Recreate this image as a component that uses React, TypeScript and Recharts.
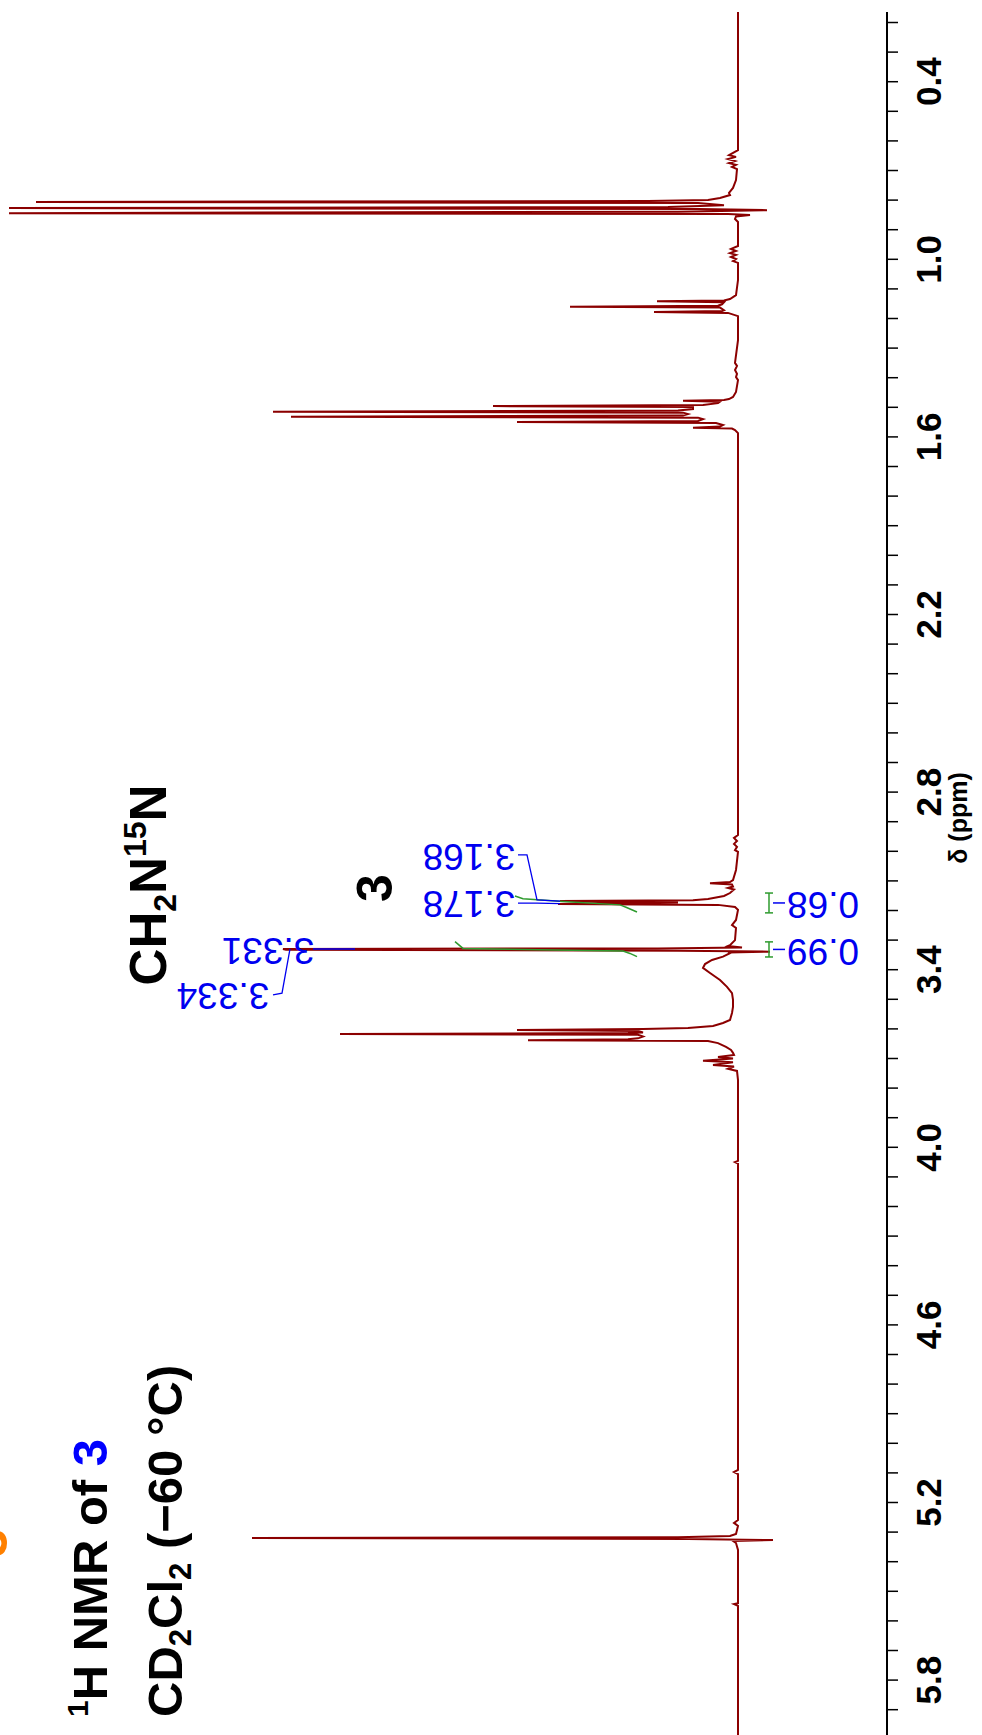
import React from 'react';
import { LineChart, Line, XAxis, YAxis } from 'recharts';

// ---------- data (chemical shift in ppm, intensity in arbitrary units) ----------
const highFieldBase: [number, number][] = [
  [0.1645, 0], [0.631, 0], [0.648, 9], [0.654, 2], [0.661, 10], [0.668, 3], [0.675, 9],
  [0.681, 2], [0.688, 6], [0.695, 1], [0.732, 2], [0.759, 5], [0.776, 9], [0.783, 8],
  [0.793, 18], [0.8, 30],
];
const tripletA: [number, number][] = [
  [0.803, 90], [0.806, 702], [0.81, 40], [0.817, 14], [0.823, 70], [0.827, 729], [0.83, 40],
  [0.834, -29], [0.839, 60], [0.844, 729], [0.847, 10], [0.85, -12], [0.855, 2], [0.864, 3],
  [0.874, 0],
];
const tripletB: [number, number][] = [
  [0.955, 0], [0.965, 7], [0.972, 2], [0.979, 8], [0.985, 2], [0.992, 7], [0.999, 2],
  [1.006, 5], [1.012, 0], [1.07, 0], [1.121, 2], [1.134, 8], [1.139, 14], [1.142, 81],
  [1.145, 14], [1.152, 16], [1.157, 20], [1.16, 168], [1.163, 18], [1.172, 14], [1.175, 16],
  [1.178, 84], [1.181, 10], [1.192, 0], [1.273, 0], [1.35, 3], [1.36, 1], [1.374, 3],
  [1.387, 1], [1.398, 2], [1.408, 0],
];
const multipletC: [number, number][] = [
  [1.448, 2], [1.465, 5], [1.472, 9], [1.475, 14], [1.478, 55], [1.481, 18], [1.486, 20],
  [1.492, 35], [1.496, 245], [1.499, 45], [1.506, 45], [1.511, 60], [1.515, 465], [1.518, 55],
  [1.523, 50], [1.528, 55], [1.532, 447], [1.535, 40], [1.54, 35], [1.546, 40], [1.55, 221],
  [1.553, 22], [1.56, 15], [1.565, 18], [1.569, 45], [1.572, 6], [1.577, 3], [1.587, 0],
];
const midBase: [number, number][] = [
  [1.61, 0], [1.813, 0], [2.151, 0], [2.489, 0], [2.827, 0], [2.945, 0], [2.955, 4],
  [2.965, 1], [2.975, 4], [2.985, 1], [2.996, 3], [3.002, 0], [3.063, 2], [3.097, 5],
  [3.104, 8], [3.108, 28], [3.112, 6], [3.119, 5], [3.124, 10], [3.129, 4], [3.141, 8],
  [3.151, 14], [3.161, 30],
];
const doubletCH2: [number, number][] = [
  [3.165, 45], [3.168, 178], [3.173, 60], [3.178, 180], [3.181, 20], [3.188, 3], [3.198, 0],
  [3.232, 2], [3.249, 6], [3.259, 2], [3.3, 3], [3.317, 8],
];
const singletS: [number, number][] = [
  [3.32, 10], [3.325, -4], [3.328, 80], [3.33, 455], [3.333, 452], [3.336, 60], [3.339, -32],
  [3.342, 10], [3.344, 8],
];
const humpAndD: [number, number][] = [
  [3.356, 15], [3.367, 26], [3.381, 33], [3.394, 35], [3.411, 28], [3.435, 18], [3.458, 11],
  [3.479, 6], [3.502, 5], [3.526, 5], [3.546, 6], [3.57, 8], [3.58, 15], [3.59, 25],
  [3.597, 50], [3.6, 95], [3.604, 221], [3.607, 100], [3.612, 95], [3.614, 110], [3.617, 398],
  [3.62, 100], [3.626, 95], [3.632, 100], [3.635, 110], [3.638, 210], [3.641, 30], [3.648, 20],
  [3.661, 12], [3.671, 7], [3.681, 5], [3.688, 4], [3.695, 20], [3.7, 5], [3.708, 35],
  [3.713, 5], [3.722, 25], [3.727, 4], [3.735, 10], [3.742, 1], [3.773, 0],
];
const lowField: [number, number][] = [
  [4.046, 0], [4.05, 3], [4.055, 0], [4.178, 0], [4.516, 0], [4.854, 0], [5.09, 0], [5.097, 4],
  [5.104, 0], [5.259, 0], [5.269, 4], [5.279, 0], [5.306, 2], [5.313, 8], [5.317, 60],
  [5.32, 486], [5.323, 50], [5.327, -35], [5.33, 5], [5.337, 2], [5.36, 0], [5.54, 0],
  [5.543, 4], [5.549, 0], [5.9855, 0],
];

const integralDoublet: [number, number][] = [
  [3.151, 223], [3.16, 215], [3.17, 175], [3.181, 118], [3.189, 112], [3.205, 101],
];
const integralSinglet: [number, number][] = [
  [3.305, 283], [3.328, 275], [3.333, 200], [3.337, 115], [3.345, 108], [3.356, 101],
];
const leader3168: [number, number][] = [[3.012, 220], [3.012, 211], [3.164, 201], [3.168, 178]];
const leader3178: [number, number][] = [[3.175, 220], [3.175, 201], [3.177, 178]];
const leader3331: [number, number][] = [[3.33, 425], [3.33, 383]];
const leader3334: [number, number][] = [[3.485, 465], [3.479, 456], [3.33, 448]];

const integralRanges: [number, number][] = [[3.141, 3.208], [3.306, 3.357]];
const integralValues = ['0.68', '0.99'];
const peakLabels = ['3.168', '3.178', '3.331', '3.334'];

const tickPpm = [
  0.2, 0.3, 0.4, 0.5, 0.6, 0.7, 0.8, 0.9, 1.0, 1.1, 1.2, 1.3, 1.4, 1.5, 1.6, 1.7, 1.8, 1.9,
  2.0, 2.1, 2.2, 2.3, 2.4, 2.5, 2.6, 2.7, 2.8, 2.9, 3.0, 3.1, 3.2, 3.3, 3.4, 3.5, 3.6, 3.7,
  3.8, 3.9, 4.0, 4.1, 4.2, 4.3, 4.4, 4.5, 4.6, 4.7, 4.8, 4.9, 5.0, 5.1, 5.2, 5.3, 5.4, 5.5,
  5.6, 5.7, 5.8, 5.9,
];
const tickLabels = ['0.4', '1.0', '1.6', '2.2', '2.8', '3.4', '4.0', '4.6', '5.2', '5.8'];

// ---------- layout ----------
const W = 982;
const H = 1735;
const TOP = 12;
const AXIS_W = 95;
const INT_DOMAIN: [number, number] = [-149, 738];
const PPM_DOMAIN: [number, number] = [0.1645, 5.9855];
const RED = '#8B0000';
const BLUE = '#0000F0';
const GREEN = '#2E9B2E';

const toRows = (arr: [number, number][]) => arr.map(([ppm, i]) => ({ ppm, i }));
const spectrum = toRows([
  ...highFieldBase, ...tripletA, ...tripletB, ...multipletC, ...midBase,
  ...doubletCH2, ...singletS, ...humpAndD, ...lowField,
]);

// same linear mapping the axes use (for text annotations only)
const plotW = W - AXIS_W;
const plotH = H - TOP;
const toX = (i: number) => ((INT_DOMAIN[1] - i) / (INT_DOMAIN[1] - INT_DOMAIN[0])) * plotW;
const toY = (p: number) => TOP + ((p - PPM_DOMAIN[0]) / (PPM_DOMAIN[1] - PPM_DOMAIN[0])) * plotH;

const peakLabelPos: [number, number][] = [[3.021, 269], [3.178, 269], [3.337, 470], [3.489, 515]];
const integralLabelPos: [number, number][] = [[3.183, -85], [3.342, -85]];

const PpmTick = (props: any) => {
  const { x, y, payload } = props;
  const label = tickLabels.find((l) => Math.abs(parseFloat(l) - payload.value) < 1e-6);
  if (!label) return <g />;
  return (
    <text
      transform={`translate(${x + 41},${y}) rotate(-90)`}
      textAnchor="middle"
      fontFamily="'Liberation Sans', Arial, sans-serif"
      fontWeight="bold"
      fontSize={35}
      fill="#000"
    >
      {label}
    </text>
  );
};

const seg = (key: string, pts: [number, number][], color: string, w = 1.3) => (
  <Line
    key={key}
    data={toRows(pts)}
    dataKey="i"
    type="linear"
    stroke={color}
    strokeWidth={w}
    dot={false}
    activeDot={false}
    isAnimationActive={false}
  />
);

const Upside = ({ p, i, text, fs }: { p: number; i: number; text: string; fs: number }) => {
  const cx = toX(i);
  const cy = toY(p);
  return (
    <text
      x={cx}
      y={cy + 0.358 * fs}
      textAnchor="middle"
      transform={`rotate(180 ${cx} ${cy})`}
      fontFamily="'Liberation Sans', Arial, sans-serif"
      fontSize={fs}
      fill={BLUE}
    >
      {text}
    </text>
  );
};

export default function App() {
  const bracketLines: React.ReactNode[] = [];
  integralRanges.forEach(([a, b], k) => {
    const mid = (a + b) / 2;
    bracketLines.push(seg(`bv${k}`, [[a, -31], [b, -31]], GREEN, 1.5));
    bracketLines.push(seg(`bc${k}a`, [[a, -27], [a, -35]], GREEN, 1.5));
    bracketLines.push(seg(`bc${k}b`, [[b, -27], [b, -35]], GREEN, 1.5));
    bracketLines.push(seg(`bt${k}`, [[mid, -35], [mid, -47]], BLUE, 1.5));
  });

  const font = "'Liberation Sans', Arial, sans-serif";
  return (
    <div style={{ position: 'absolute', left: 0, top: 0, width: W, height: H, background: '#fff' }}>
      <LineChart
        layout="vertical"
        width={W}
        height={H}
        data={spectrum}
        margin={{ top: TOP, right: 0, bottom: 0, left: 0 }}
      >
        <XAxis type="number" domain={INT_DOMAIN} reversed hide allowDataOverflow />
        <YAxis
          type="number"
          dataKey="ppm"
          orientation="right"
          domain={PPM_DOMAIN}
          allowDataOverflow
          ticks={tickPpm}
          interval={0}
          width={AXIS_W}
          tickSize={11}
          tick={<PpmTick />}
          axisLine={{ stroke: '#000', strokeWidth: 2 }}
          tickLine={{ stroke: '#000', strokeWidth: 1.5 }}
        />
        <Line
          dataKey="i"
          type="linear"
          stroke={RED}
          strokeWidth={2}
          dot={false}
          activeDot={false}
          isAnimationActive={false}
        />
        {seg('intD', integralDoublet, GREEN, 1.5)}
        {seg('intS', integralSinglet, GREEN, 1.5)}
        {seg('l1', leader3168, BLUE)}
        {seg('l2', leader3178, BLUE)}
        {seg('l3', leader3331, BLUE)}
        {seg('l4', leader3334, BLUE)}
        {bracketLines}
      </LineChart>
      <svg
        width={W}
        height={H}
        style={{ position: 'absolute', left: 0, top: 0, pointerEvents: 'none' }}
      >
        {peakLabels.map((t, k) => (
          <Upside key={t} p={peakLabelPos[k][0]} i={peakLabelPos[k][1]} text={t} fs={37} />
        ))}
        {integralValues.map((t, k) => (
          <Upside key={t} p={integralLabelPos[k][0]} i={integralLabelPos[k][1]} text={t} fs={37} />
        ))}
        <text
          transform="translate(967,818) rotate(-90)"
          textAnchor="middle"
          fontFamily={font}
          fontWeight="bold"
          fontSize={25}
          fill="#000"
        >
          δ (ppm)
        </text>
        <text
          transform="translate(392,888) rotate(-90)"
          textAnchor="middle"
          fontFamily={font}
          fontWeight="bold"
          fontSize={50}
          fill="#000"
        >
          3
        </text>
        <text
          transform="translate(166,885) rotate(-90)"
          textAnchor="middle"
          fontFamily={font}
          fontWeight="bold"
          fontSize={51}
          fill="#000"
        >
          <tspan>CH</tspan>
          <tspan fontSize={32} dy={10}>2</tspan>
          <tspan dy={-10}>N</tspan>
          <tspan fontSize={32} dy={-20}>15</tspan>
          <tspan dy={20}>N</tspan>
        </text>
        <text
          transform="translate(107,1717) rotate(-90)"
          textAnchor="start"
          fontFamily={font}
          fontWeight="bold"
          fontSize={49}
          fill="#000"
        >
          <tspan fontSize={30} dy={-19}>1</tspan>
          <tspan dy={19}>H NMR of </tspan>
          <tspan fill="#0000FF">3</tspan>
        </text>
        <text
          transform="translate(182,1717) rotate(-90)"
          textAnchor="start"
          fontFamily={font}
          fontWeight="bold"
          fontSize={49}
          fill="#000"
        >
          <tspan>CD</tspan>
          <tspan fontSize={31} dy={9}>2</tspan>
          <tspan dy={-9}>Cl</tspan>
          <tspan fontSize={31} dy={9}>2</tspan>
          <tspan dy={-9}> (−60 °C)</tspan>
        </text>
        <text
          transform="translate(7,1543) rotate(-90)"
          textAnchor="middle"
          fontFamily={font}
          fontWeight="bold"
          fontSize={50}
          fill="#FF8000"
        >
          3
        </text>
      </svg>
    </div>
  );
}
